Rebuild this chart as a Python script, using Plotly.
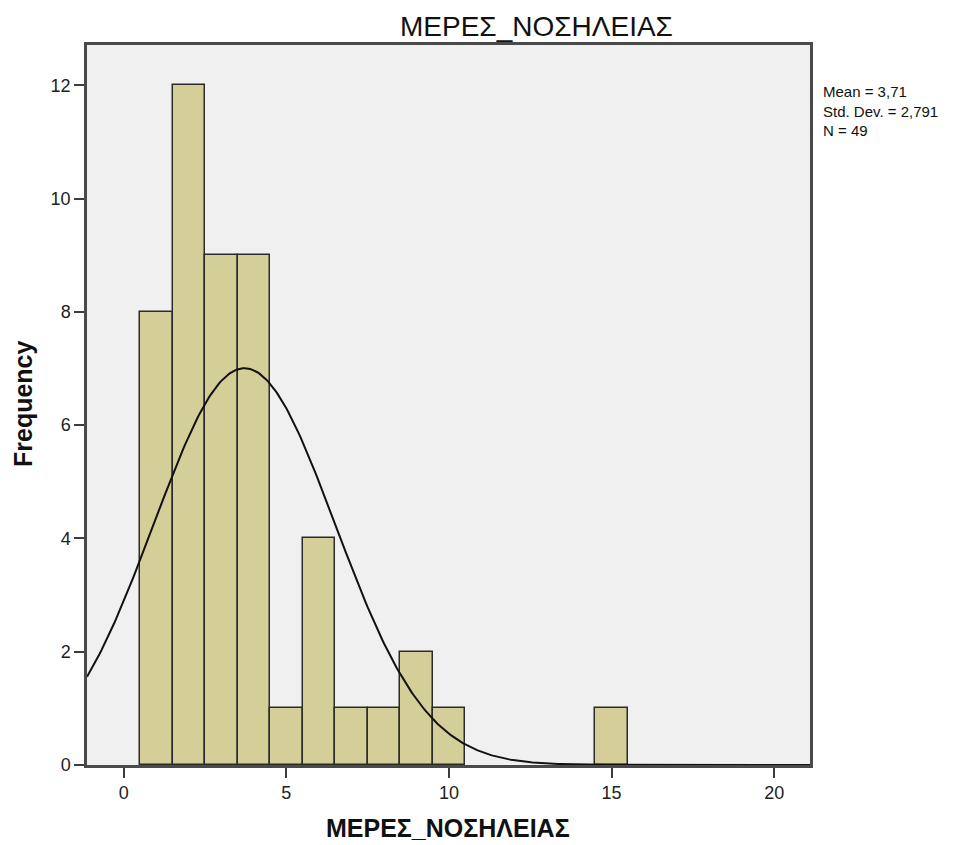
import numpy as np
import plotly.graph_objects as go

# Hospital stay length (days) and how many patients had each
days = [1, 2, 3, 4, 5, 6, 7, 8, 9, 10, 15]
counts = [8, 12, 9, 9, 1, 4, 1, 1, 2, 1, 1]

mean_val = 3.71
std_val = 2.791
n_total = 49

x_range = [-1.13, 21.1]
y_range = [0, 12.71]
x_ticks = [0, 5, 10, 15, 20]
y_ticks = [0, 2, 4, 6, 8, 10, 12]

title_text = "ΜΕΡΕΣ_ΝΟΣΗΛΕΙΑΣ"
stats_lines = [
    f"Mean = {str(mean_val).replace('.', ',')}",
    f"Std. Dev. = {str(std_val).replace('.', ',')}",
    f"N = {n_total}",
]

# Normal curve scaled to counts (bin width 1)
xs = np.linspace(x_range[0], x_range[1], 400)
ys = n_total / (std_val * np.sqrt(2 * np.pi)) * np.exp(-0.5 * ((xs - mean_val) / std_val) ** 2)

# plot area in pixels
L, R, T, B = 87, 164, 45, 80
W, H = 974, 845
PW, PH = W - L - R, H - T - B


def px(x):
    return (x - L) / PW


def py(y):
    return (H - B - y) / PH


fig = go.Figure()
fig.add_trace(go.Bar(
    x=days, y=counts, width=1,
    marker=dict(color="#D4CF98", line=dict(color="#2b2b2b", width=1.5)),
    hoverinfo="x+y",
))
fig.add_trace(go.Scatter(
    x=xs, y=ys, mode="lines",
    line=dict(color="#111111", width=2),
    hoverinfo="skip",
))

axis_common = dict(
    showline=True, linecolor="#4a4a4a", linewidth=2.5, mirror=True,
    ticks="outside", ticklen=10, tickwidth=2, tickcolor="#3c3c3c",
    showgrid=False, zeroline=False,
    tickfont=dict(family="Liberation Sans, Arial", size=18, color="#222222"),
)

font_main = "Liberation Sans, Arial"
annotations = [
    dict(text=title_text, x=px(536), y=py(26), xanchor="center", yanchor="middle",
         font=dict(family=font_main, size=28, color="#111111")),
    dict(text="<b>" + title_text + "</b>", x=px(448), y=py(828), xanchor="center", yanchor="middle",
         font=dict(family=font_main, size=25, color="#111111")),
    dict(text="<b>Frequency</b>", x=px(23), y=py(404), xanchor="center", yanchor="middle",
         textangle=-90, font=dict(family=font_main, size=25, color="#111111")),
    dict(text="<br>".join(stats_lines), x=px(821), y=py(81), xanchor="left", yanchor="top",
         align="left", font=dict(family=font_main, size=15, color="#111111")),
]
for a in annotations:
    a.update(xref="paper", yref="paper", showarrow=False)

fig.update_layout(
    width=W, height=H,
    margin=dict(l=L, r=R, t=T, b=B),
    paper_bgcolor="white", plot_bgcolor="#F0F0F0",
    showlegend=False,
    bargap=0,
    xaxis=dict(range=x_range, tickvals=x_ticks, **axis_common),
    yaxis=dict(range=y_range, tickvals=y_ticks, **axis_common),
    annotations=annotations,
)

fig.write_html("out.html")
